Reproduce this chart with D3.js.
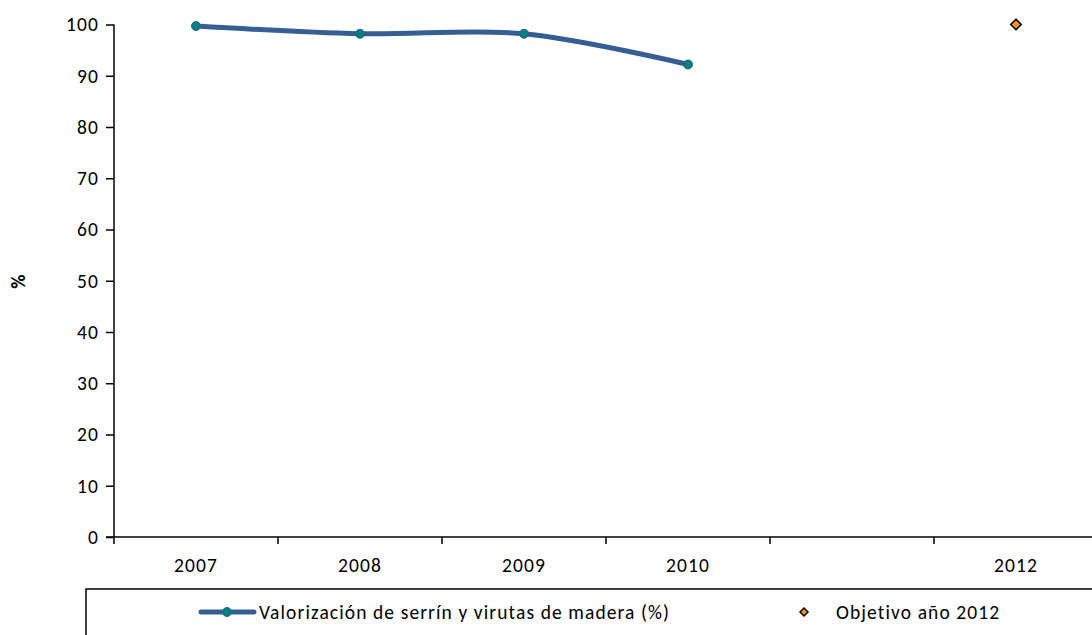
<!DOCTYPE html>
<html>
<head>
<meta charset="utf-8">
<script src="https://cdn.jsdelivr.net/npm/d3@7"></script>
<style>
  body { margin: 0; background: #fff; }
  text { font-family: Calibri, Carlito, "Liberation Sans", sans-serif; letter-spacing: 1.1px; }
</style>
</head>
<body>
<div id="chart"></div>
<script>
// categories on the x axis (2011 has no data but keeps its slot)
var years = ["2007", "2008", "2009", "2010", "2011", "2012"];
var yearLabels = ["2007", "2008", "2009", "2010", "", "2012"];

// series values
var serieYears = ["2007", "2008", "2009", "2010"];
var serieValues = [99.7, 98.2, 98.2, 92.2];
var objetivoYear = "2012";
var objetivoValue = 100;

var yTicks = [0, 10, 20, 30, 40, 50, 60, 70, 80, 90, 100];

const width = 1092;
const height = 635;
const fontSize = 19.5;

var svg = d3.select("#chart")
  .append("svg")
  .attr("width", width)
  .attr("height", height);

// plot area
var plotLeft = 114, plotTop = 24.5, plotBottom = 537;

var x = d3.scaleBand()
  .domain(years)
  .range([plotLeft, plotLeft + 164 * years.length]);

var y = d3.scaleLinear()
  .domain([0, 100])
  .range([plotBottom, plotTop]);

// y axis
var yAxis = svg.append("g")
  .attr("transform", "translate(" + plotLeft + ",0)")
  .call(d3.axisLeft(y).tickValues(yTicks).tickSize(8).tickPadding(7));
yAxis.select(".domain").attr("stroke", "#000").attr("stroke-width", 1.5).attr("d", "M0," + plotTop + "V" + plotBottom);
yAxis.selectAll(".tick line").attr("stroke", "#000").attr("stroke-width", 1.5);
yAxis.selectAll("text").attr("font-size", fontSize).attr("fill", "#000").attr("font-family", null);

// x axis, ticks between categories
var xAxis = svg.append("g")
  .attr("transform", "translate(0," + plotBottom + ")");
xAxis.append("line")
  .attr("x1", plotLeft - 8).attr("x2", width)
  .attr("stroke", "#000").attr("stroke-width", 1.5);
xAxis.selectAll(".xt")
  .data(years.concat(["end"]))
  .enter().append("line")
  .attr("x1", function (d, i) { return x.range()[0] + i * x.step(); })
  .attr("x2", function (d, i) { return x.range()[0] + i * x.step(); })
  .attr("y1", 0).attr("y2", 7)
  .attr("stroke", "#000").attr("stroke-width", 1.5);
xAxis.selectAll(".xl")
  .data(years)
  .enter().append("text")
  .attr("x", function (d) { return x(d) + x.bandwidth() / 2; })
  .attr("y", 35)
  .attr("text-anchor", "middle")
  .attr("font-size", fontSize)
  .text(function (d, i) { return yearLabels[i]; });

// y axis title
svg.append("text")
  .attr("transform", "translate(25,281) rotate(-90)")
  .attr("text-anchor", "middle")
  .attr("font-size", fontSize)
  .attr("font-weight", "bold")
  .text("%");

// smoothed line
var pts = serieYears.map(function (d, i) { return [x(d) + x.bandwidth() / 2, y(serieValues[i])]; });
var line = d3.line().curve(d3.curveCatmullRom.alpha(0.5));

svg.append("path")
  .attr("d", line(pts))
  .attr("fill", "none")
  .attr("stroke", "#355f93")
  .attr("stroke-width", 5)
  .attr("stroke-linecap", "round");

svg.selectAll(".dot")
  .data(pts)
  .enter().append("circle")
  .attr("cx", function (d) { return d[0]; })
  .attr("cy", function (d) { return d[1]; })
  .attr("r", 4.5)
  .attr("fill", "#007f7f")
  .attr("stroke", "#355f93")
  .attr("stroke-width", 1);

// target diamond
var diamond = d3.symbol().type(d3.symbolDiamond2).size(70);
svg.append("path")
  .attr("d", diamond())
  .attr("transform", "translate(" + (x(objetivoYear) + x.bandwidth() / 2) + "," + y(objetivoValue) + ")")
  .attr("fill", "#ff9900")
  .attr("stroke", "#000")
  .attr("stroke-width", 1.6);

// legend
var legend = svg.append("g");
legend.append("rect")
  .attr("x", 86).attr("y", 589)
  .attr("width", 1100).attr("height", 100)
  .attr("fill", "none")
  .attr("stroke", "#000")
  .attr("stroke-width", 1.5);

legend.append("line")
  .attr("x1", 201).attr("x2", 254)
  .attr("y1", 612).attr("y2", 612)
  .attr("stroke", "#355f93").attr("stroke-width", 5).attr("stroke-linecap", "round");
legend.append("circle")
  .attr("cx", 227).attr("cy", 612).attr("r", 4.5)
  .attr("fill", "#007f7f").attr("stroke", "#355f93");
legend.append("text")
  .attr("x", 259).attr("y", 619)
  .attr("font-size", fontSize)
  .text("Valorización de serrín y virutas de madera (%)");

legend.append("path")
  .attr("d", d3.symbol().type(d3.symbolDiamond2).size(40)())
  .attr("transform", "translate(804,612)")
  .attr("fill", "#ff9900").attr("stroke", "#000").attr("stroke-width", 1.5);
legend.append("text")
  .attr("x", 836).attr("y", 619)
  .attr("font-size", fontSize)
  .text("Objetivo año 2012");
</script>
</body>
</html>
